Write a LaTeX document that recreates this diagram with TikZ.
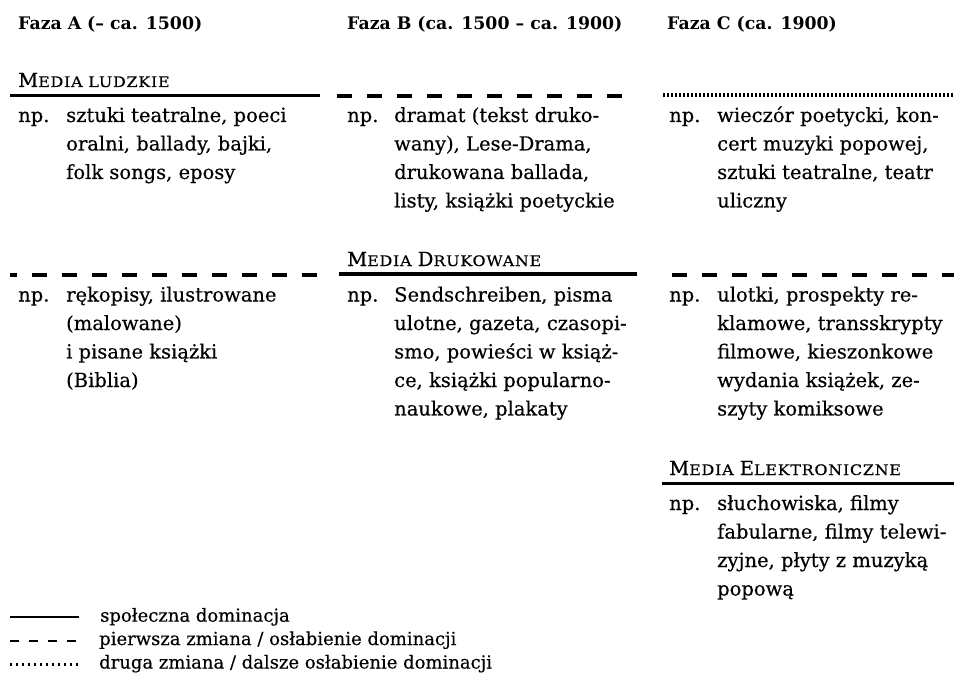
\documentclass[tikz,border=0pt]{standalone}
\usepackage{fontspec}
\setmainfont{DejaVu Serif}[UprightFeatures={FakeBold=0.4}]
\newfontfamily\scfont{DejaVu Serif}[FakeStretch=1.1, LetterSpace=5, FakeBold=0.4]
\newcommand\bodyfont{\fontsize{19.5}{28.5}\selectfont}
\newcommand\legfont{\fontsize{18}{23.5}\selectfont}
\newcommand\headfont{\fontsize{17.3}{22}\selectfont\bfseries}
\newcommand\smallc[1]{{\scfont\fontsize{14.5}{17}\selectfont #1}}
\newcommand\lines[1]{\begin{tabular}[t]{@{}l@{}}#1\end{tabular}}
\begin{document}
\begin{tikzpicture}[x=1pt,y=-1pt,
  body/.style={anchor=base west, inner sep=0pt, font=\bodyfont},
  head/.style={anchor=base west, inner sep=0pt, font=\headfont},
  leg/.style={anchor=base west, inner sep=0pt, font=\legfont},
  dominant/.style={line width=3.5pt},
  firstchange/.style={line width=4pt, dash pattern=on 15pt off 15pt},
  secondchange/.style={line width=4pt, dash pattern=on 1.6pt off 2.4pt},
  legsolid/.style={line width=2.2pt},
  legdashed/.style={line width=2.2pt, dash pattern=on 9pt off 10pt},
  legdotted/.style={line width=3pt, dash pattern=on 2pt off 4pt}]
\useasboundingbox (0,0) rectangle (954,674);

% headers
\node[head] (ha) at (18,30) {Faza A (– ca. 1500)};
\node[head] (hb) at (347,30) {Faza B (ca. 1500 – ca. 1900)};
\node[head] (hc) at (667,30) {Faza C (ca. 1900)};

% category labels
\node[body] (cl) at (18,87) {M\smallc{EDIA LUDZKIE}};
\node[body] (cd) at (347,266) {M\smallc{EDIA} D\smallc{RUKOWANE}};
\node[body] (ce) at (669,475) {M\smallc{EDIA} E\smallc{LEKTRONICZNE}};

% rules, row 1
\draw[dominant] (10,95.5) -- (320,95.5);
\draw[firstchange] (337,96) -- (627,96);
\draw[secondchange] (663,95) -- (954,95);
% rules, row 2
\draw[firstchange, dash phase=8.3pt] (10,275) -- (320,275);
\draw[dominant] (339,274) -- (637,274);
\draw[firstchange] (672,275) -- (954,275);
% rule, row 3
\draw[dominant] (662,483.5) -- (954,483.5);

% row 1 texts
\node[body] (npa1) at (18,122) {np.};
\node[body] (ta1) at (66,122) {\lines{sztuki teatralne, poeci\\oralni, ballady, bajki,\\folk songs, eposy}};
\node[body] (npb1) at (347,122) {np.};
\node[body] (tb1) at (394,122) {\lines{dramat (tekst druko-\\wany), Lese-Drama,\\drukowana ballada,\\listy, książki poetyckie}};
\node[body] (npc1) at (669,122) {np.};
\node[body] (tc1) at (717,122) {\lines{wieczór poetycki, kon-\\cert muzyki popowej,\\sztuki teatralne, teatr\\uliczny}};

% row 2 texts
\node[body] (npa2) at (18,301.5) {np.};
\node[body] (ta2) at (66,301.5) {\lines{rękopisy, ilustrowane\\(malowane)\\i pisane książki\\(Biblia)}};
\node[body] (npb2) at (347,301.5) {np.};
\node[body] (tb2) at (394,301.5) {\lines{Sendschreiben, pisma\\ulotne, gazeta, czasopi-\\smo, powieści w książ-\\ce, książki popularno-\\naukowe, plakaty}};
\node[body] (npc2) at (669,301.5) {np.};
\node[body] (tc2) at (717,301.5) {\lines{ulotki, prospekty re-\\klamowe, transskrypty\\filmowe, kieszonkowe\\wydania książek, ze-\\szyty komiksowe}};

% row 3 text
\node[body] (npc3) at (669,510) {np.};
\node[body] (tc3) at (717,510) {\lines{słuchowiska, filmy\\fabularne, filmy telewi-\\zyjne, płyty z muzyką\\popową}};

% legend
\draw[legsolid] (10,617.3) -- (79,617.3);
\draw[legdashed] (10,640.7) -- (79,640.7);
\draw[legdotted] (10,664) -- (79,664);
\node[leg] (l1) at (100,621.7) {społeczna dominacja};
\node[leg] (l2) at (99,645) {pierwsza zmiana / osłabienie dominacji};
\node[leg] (l3) at (99,668.5) {druga zmiana / dalsze osłabienie dominacji};
\end{tikzpicture}
\end{document}
